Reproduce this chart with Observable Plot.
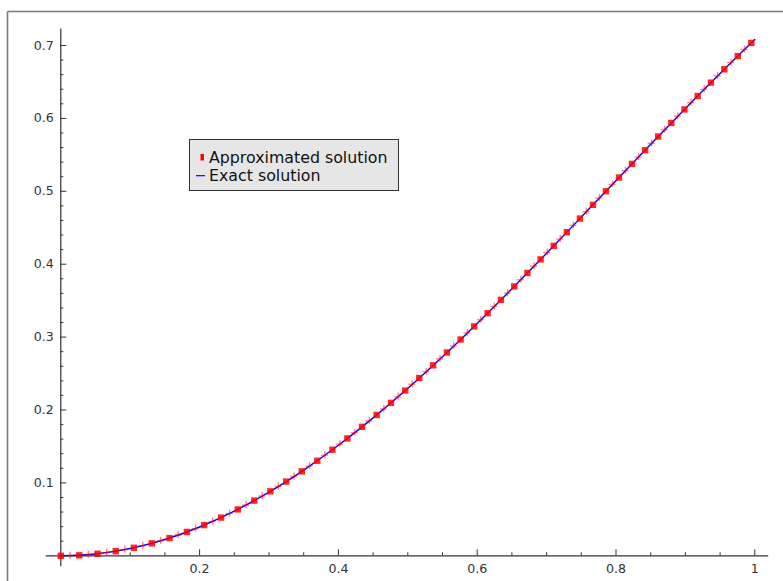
<!DOCTYPE html>
<html>
<head>
<meta charset="utf-8">
<script src="https://cdn.jsdelivr.net/npm/d3@7"></script>
<script src="https://cdn.jsdelivr.net/npm/@observablehq/plot@0.6"></script>
<style>
  html, body { margin: 0; padding: 0; background: #fff; }
  #chart { position: relative; width: 783px; height: 581px; overflow: hidden; }
</style>
</head>
<body>
<div id="chart"></div>
<script>
// Approximated solution (square markers)
const approxX = [0, 0.0265, 0.0529, 0.0792, 0.1053, 0.1311, 0.1566, 0.1818, 0.2066, 0.2310, 0.2550, 0.2787, 0.3019, 0.3248, 0.3473, 0.3695, 0.3914, 0.4129, 0.4341, 0.4551, 0.4758, 0.4963, 0.5165, 0.5365, 0.5564, 0.5761, 0.5956, 0.6150, 0.6342, 0.6534, 0.6724, 0.6914, 0.7103, 0.7292, 0.7480, 0.7668, 0.7855, 0.8043, 0.8231, 0.8419, 0.8607, 0.8797, 0.8986, 0.9177, 0.9368, 0.9561, 0.9755, 0.9950];
const approxY = [0, 0.0007, 0.0028, 0.0063, 0.0110, 0.0171, 0.0243, 0.0327, 0.0421, 0.0524, 0.0636, 0.0757, 0.0884, 0.1018, 0.1159, 0.1304, 0.1455, 0.1610, 0.1769, 0.1932, 0.2098, 0.2267, 0.2439, 0.2613, 0.2789, 0.2967, 0.3147, 0.3328, 0.3511, 0.3695, 0.3880, 0.4066, 0.4252, 0.4439, 0.4626, 0.4814, 0.5001, 0.5189, 0.5376, 0.5564, 0.5751, 0.5937, 0.6123, 0.6307, 0.6491, 0.6674, 0.6855, 0.7035];
// Intermediate "+" markers of the approximated solution
const midX = [0.0133, 0.0397, 0.0661, 0.0923, 0.1182, 0.1439, 0.1692, 0.1942, 0.2188, 0.2431, 0.2669, 0.2904, 0.3134, 0.3361, 0.3585, 0.3805, 0.4022, 0.4236, 0.4446, 0.4655, 0.4861, 0.5064, 0.5266, 0.5465, 0.5662, 0.5858, 0.6053, 0.6246, 0.6438, 0.6629, 0.6819, 0.7009, 0.7197, 0.7386, 0.7574, 0.7761, 0.7949, 0.8137, 0.8325, 0.8513, 0.8702, 0.8891, 0.9081, 0.9272, 0.9464, 0.9658, 0.9852];
const midY = [0.0002, 0.0016, 0.0044, 0.0085, 0.0139, 0.0206, 0.0284, 0.0373, 0.0471, 0.0579, 0.0696, 0.0820, 0.0951, 0.1088, 0.1231, 0.1379, 0.1532, 0.1689, 0.1850, 0.2015, 0.2182, 0.2353, 0.2526, 0.2701, 0.2878, 0.3057, 0.3238, 0.3420, 0.3603, 0.3787, 0.3973, 0.4159, 0.4345, 0.4532, 0.4720, 0.4907, 0.5095, 0.5283, 0.5470, 0.5657, 0.5844, 0.6030, 0.6215, 0.6399, 0.6583, 0.6765, 0.6945];
// Exact solution (blue line)
const exactX = [0, 0.05, 0.1, 0.15, 0.2, 0.25, 0.3, 0.35, 0.4, 0.45, 0.5, 0.55, 0.6, 0.65, 0.7, 0.75, 0.8, 0.85, 0.9, 0.95, 1.0];
const exactY = [0, 0.0025, 0.0100, 0.0223, 0.0395, 0.0612, 0.0873, 0.1176, 0.1516, 0.1892, 0.2298, 0.2732, 0.3188, 0.3663, 0.4150, 0.4646, 0.5146, 0.5644, 0.6136, 0.6616, 0.7081];

const xMajor = [0.2, 0.4, 0.6, 0.8, 1];
const xTickLabels = ["0.2", "0.4", "0.6", "0.8", "1"];
const xMinor = [0.05, 0.1, 0.15, 0.25, 0.3, 0.35, 0.45, 0.5, 0.55, 0.65, 0.7, 0.75, 0.85, 0.9, 0.95];
const yMajor = [0.1, 0.2, 0.3, 0.4, 0.5, 0.6, 0.7];
const yTickLabels = ["0.1", "0.2", "0.3", "0.4", "0.5", "0.6", "0.7"];
const yMinor = [0.02, 0.04, 0.06, 0.08, 0.12, 0.14, 0.16, 0.18, 0.22, 0.24, 0.26, 0.28, 0.32, 0.34, 0.36, 0.38, 0.42, 0.44, 0.46, 0.48, 0.52, 0.54, 0.56, 0.58, 0.62, 0.64, 0.66, 0.68];
const legendLabels = ["Approximated solution", "Exact solution"];

const approx = approxX.map((x, i) => ({x, y: approxY[i]}));
const mids = midX.map((x, i) => ({x, y: midY[i]}));
const exact = exactX.map((x, i) => ({x, y: exactY[i]}));

const axisColor = "#333";

const chart = Plot.plot({
  width: 783,
  height: 581,
  marginLeft: 60.3,
  marginRight: 28.7,
  marginTop: 45,
  marginBottom: 25.7,
  x: {domain: [0, 1], label: null},
  y: {domain: [0, 0.7], label: null},
  style: {fontFamily: "DejaVu Sans, sans-serif", fontSize: "12px", color: axisColor, background: "#fff"},
  marks: [
    // axis lines
    Plot.ruleY([0], {x1: () => -0.021, x2: () => 1.02, stroke: axisColor, strokeWidth: 1.2}),
    Plot.ruleX([0], {y1: () => -0.015, y2: () => 0.7225, stroke: axisColor, strokeWidth: 1.2}),
    // x ticks
    Plot.axisX(xMajor, {anchor: "bottom", tickSize: -6, tickFormat: () => "", stroke: axisColor}),
    Plot.axisX(xMinor, {anchor: "bottom", tickSize: -3, tickFormat: () => "", stroke: axisColor}),
    Plot.axisX(xMajor, {anchor: "bottom", tickSize: 0, tickPadding: 8, tickFormat: (d, i) => xTickLabels[i], fill: axisColor, fontSize: 12.6}),
    // y ticks
    Plot.axisY(yMajor, {anchor: "left", tickSize: -6, tickFormat: () => "", stroke: axisColor}),
    Plot.axisY(yMinor, {anchor: "left", tickSize: -3, tickFormat: () => "", stroke: axisColor}),
    Plot.axisY(yMajor, {anchor: "left", tickSize: 0, tickPadding: 7, tickFormat: (d, i) => yTickLabels[i], fill: axisColor, fontSize: 12.6}),
    // exact solution
    Plot.line(exact, {x: "x", y: "y", stroke: "#0000ff", strokeWidth: 1.4, curve: "catmull-rom"}),
    // approximated solution markers
    Plot.ruleX(mids, {x: "x", y1: "y", y2: "y", insetTop: -3.5, insetBottom: -3.5, stroke: "#ff0000", strokeOpacity: 0.5, strokeWidth: 1.4}),
    Plot.ruleY(mids, {y: "y", x1: "x", x2: "x", insetLeft: -3.5, insetRight: -3.5, stroke: "#ff0000", strokeOpacity: 0.5, strokeWidth: 1.4}),
    Plot.dot(approx, {x: "x", y: "y", symbol: "square", r: 3.6, fill: "#ff0000", fillOpacity: 0.85})
  ]
});

document.getElementById("chart").appendChild(chart);

// outer frame (partially visible, as in the reference)
const svg = d3.select(chart);
svg.append("line").attr("x1", 7.5).attr("x2", 7.5).attr("y1", 11.5).attr("y2", 581)
  .attr("stroke", "#7a7a7a").attr("stroke-width", 1.6);
svg.append("line").attr("x1", 7.5).attr("x2", 783).attr("y1", 11.5).attr("y2", 11.5)
  .attr("stroke", "#7a7a7a").attr("stroke-width", 1.6);

// legend box
const lg = svg.append("g").attr("text-anchor", "start");
lg.append("rect").attr("x", 189.5).attr("y", 139.5).attr("width", 209).attr("height", 51)
  .attr("fill", "#e6e6e6").attr("stroke", "#333").attr("stroke-width", 1);
lg.append("rect").attr("x", 200.5).attr("y", 154).attr("width", 3.5).attr("height", 6.5).attr("fill", "#ff0000");
lg.append("line").attr("x1", 196).attr("x2", 205).attr("y1", 175.7).attr("y2", 175.7)
  .attr("stroke", "#0000ff").attr("stroke-width", 1.2);
lg.append("text").attr("x", 209).attr("y", 163.3).attr("text-anchor", "start").text(legendLabels[0])
  .attr("font-family", "DejaVu Sans, sans-serif").attr("font-size", 15.8).attr("fill", "#111");
lg.append("text").attr("x", 209).attr("y", 180.7).attr("text-anchor", "start").text(legendLabels[1])
  .attr("font-family", "DejaVu Sans, sans-serif").attr("font-size", 15.8).attr("fill", "#111");
</script>
</body>
</html>
